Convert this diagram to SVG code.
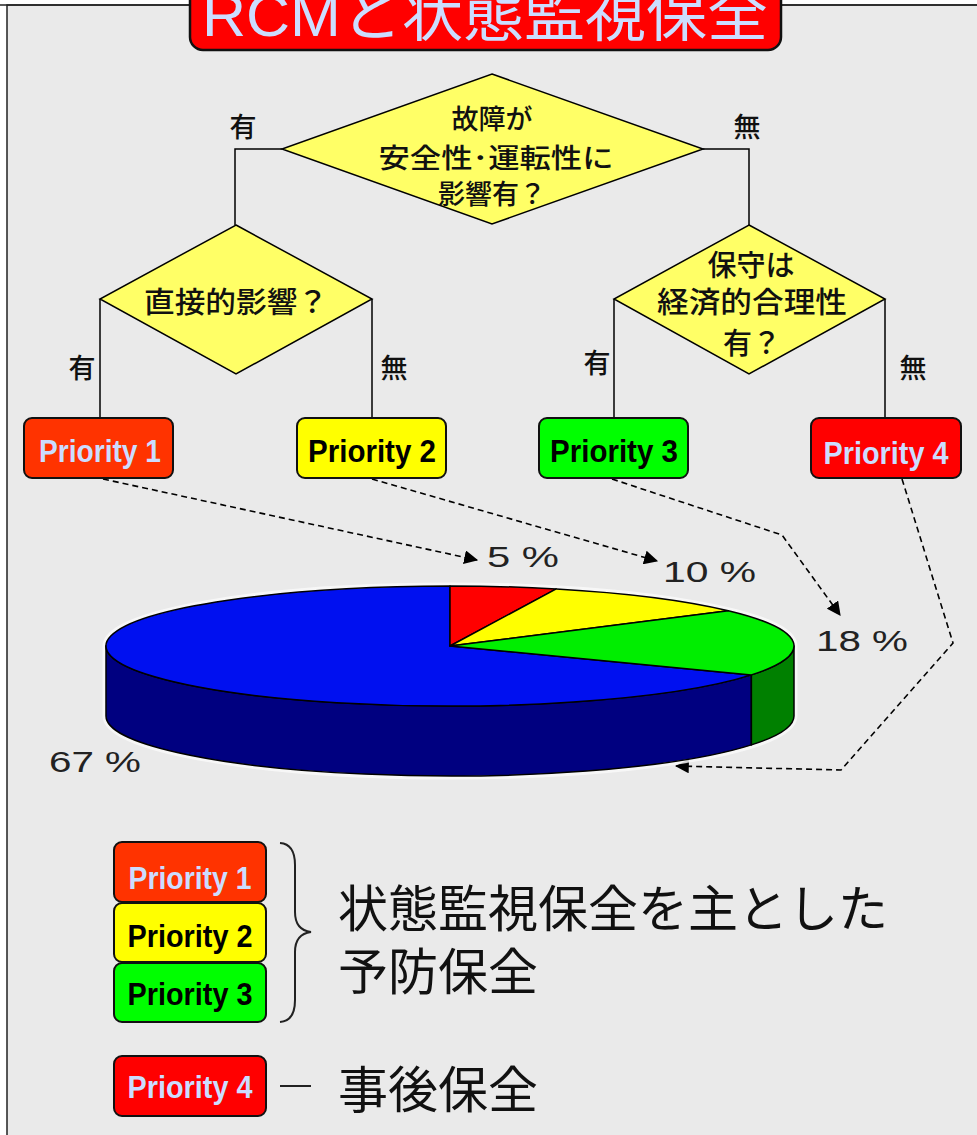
<svg xmlns="http://www.w3.org/2000/svg" width="977" height="1135" viewBox="0 0 977 1135">
<defs>
<style>
.cjk{font-family:"Noto Sans CJK JP","Liberation Sans",sans-serif;fill:#111}
.dt{font-weight:500}
.dia{fill:#FFFF66;stroke:#000;stroke-width:1.5}
.box{stroke:#111;stroke-width:2}
.pt{font-family:"Liberation Sans",Arial,sans-serif;font-weight:bold;font-size:31px;text-anchor:middle}
.lt{fill:#CCDDFF}
.dk{fill:#000}
.wire{fill:none;stroke:#000;stroke-width:1.5}
.dash{fill:none;stroke:#000;stroke-width:1.6;stroke-dasharray:6 4}
.pct{font-family:"Liberation Sans",Arial,sans-serif;font-size:29px;fill:#222}
.lbl{font-size:27px;text-anchor:middle}
.pie{stroke:#000;stroke-width:1.5;stroke-linejoin:round}
</style>
<marker id="arr" viewBox="0 0 12 12" refX="11" refY="6" markerWidth="14" markerHeight="14" markerUnits="userSpaceOnUse" orient="auto">
<path d="M0,0 L12,6 L0,12 Z" fill="#000"/>
</marker>
</defs>
<rect width="977" height="1135" fill="#fff"/>
<rect x="7" y="5" width="985" height="1145" fill="#EAEAEA" stroke="#222" stroke-width="1.5"/>
<line x1="0" y1="5" x2="977" y2="5" stroke="#222" stroke-width="1.5"/>

<g id="title">
<rect x="190" y="-14" width="591" height="64" rx="13" fill="#FF0000" stroke="#111" stroke-width="2.5"/>
<text x="485" y="36" text-anchor="middle" font-size="60" font-family="Liberation Sans,'Noto Sans CJK JP',sans-serif" fill="#CCDDFF" textLength="566" lengthAdjust="spacingAndGlyphs">RCMと状態監視保全</text>
</g>

<g id="connectors">
<polyline class="wire" points="282,149 235,149 235,225"/>
<polyline class="wire" points="703,149 749,149 749,225"/>
<line class="wire" x1="100" y1="299" x2="100" y2="418"/>
<line class="wire" x1="372" y1="299" x2="372" y2="418"/>
<line class="wire" x1="614" y1="299" x2="614" y2="418"/>
<line class="wire" x1="885" y1="299" x2="885" y2="418"/>
<line class="dash" x1="103" y1="479" x2="477" y2="560" marker-end="url(#arr)"/>
<line class="dash" x1="372" y1="479" x2="657" y2="561" marker-end="url(#arr)"/>
<polyline class="dash" points="612,479 782,535 840,615" marker-end="url(#arr)"/>
<polyline class="dash" points="902,479 953,643 841,770 676,766" marker-end="url(#arr)" stroke-dasharray="8 5"/>
</g>

<g id="decision1">
<polygon class="dia" points="492,74 703,149 492,224 282,149"/>
<text class="cjk dt" x="492" y="129" font-size="27" text-anchor="middle">故障が</text>
<text class="cjk dt" x="496" y="168" font-size="27" text-anchor="middle" textLength="235" lengthAdjust="spacingAndGlyphs">安全性･運転性に</text>
<text class="cjk dt" x="492" y="204" font-size="27" text-anchor="middle">影響有？</text>
</g>

<g id="decision2">
<polygon class="dia" points="236,225 372,299 236,374 100,299"/>
<text class="cjk dt" x="236" y="313" font-size="29" text-anchor="middle" textLength="184" lengthAdjust="spacingAndGlyphs">直接的影響？</text>
</g>

<g id="decision3">
<polygon class="dia" points="749,225 885,299 749,374 614,299"/>
<text class="cjk dt" x="751" y="276" font-size="29" text-anchor="middle">保守は</text>
<text class="cjk dt" x="752" y="313" font-size="29" text-anchor="middle" textLength="190" lengthAdjust="spacingAndGlyphs">経済的合理性</text>
<text class="cjk dt" x="752" y="354" font-size="29" text-anchor="middle">有？</text>
</g>

<g id="labels">
<text class="cjk dt lbl" x="243" y="137">有</text>
<text class="cjk dt lbl" x="747" y="137">無</text>
<text class="cjk dt lbl" x="82" y="378">有</text>
<text class="cjk dt lbl" x="394" y="378">無</text>
<text class="cjk dt lbl" x="597" y="373">有</text>
<text class="cjk dt lbl" x="913" y="378">無</text>
</g>

<g id="p1">
<rect class="box" x="24" y="418" width="149" height="60" rx="8" fill="#FF3300"/>
<text class="pt lt" x="100" y="462" textLength="122" lengthAdjust="spacingAndGlyphs">Priority 1</text>
</g>
<g id="p2">
<rect class="box" x="297" y="418" width="149" height="60" rx="8" fill="#FFFF00"/>
<text class="pt dk" x="372" y="462" textLength="128" lengthAdjust="spacingAndGlyphs">Priority 2</text>
</g>
<g id="p3">
<rect class="box" x="539" y="418" width="149" height="60" rx="8" fill="#00FF00"/>
<text class="pt dk" x="614" y="462" textLength="128" lengthAdjust="spacingAndGlyphs">Priority 3</text>
</g>
<g id="p4">
<rect class="box" x="811" y="418" width="150" height="60" rx="8" fill="#FF0000"/>
<text class="pt lt" x="886" y="464" textLength="125" lengthAdjust="spacingAndGlyphs">Priority 4</text>
</g>

<g id="pie">
<path d="M106,646 A344,60 0 0,1 794,646 L794,716 A344,60 0 0,1 106,716 Z" fill="#fff" stroke="#fafafa" stroke-width="7" stroke-linejoin="round" opacity="0.85"/>
<path class="pie" d="M106,646 A344,60 0 0,0 751.4,674.9 L751.4,744.9 A344,60 0 0,1 106,716 Z" fill="#000080"/>
<path class="pie" d="M751.4,674.9 A344,60 0 0,0 794,646 L794,716 A344,60 0 0,1 751.4,744.9 Z" fill="#008000"/>
<path class="pie" d="M450,646 L751.4,674.9 A344,60 0 1,1 450,586 Z" fill="#0010F0"/>
<path class="pie" d="M450,646 L450,586 A344,60 0 0,1 556.3,588.9 Z" fill="#FF0000"/>
<path class="pie" d="M450,646 L556.3,588.9 A344,60 0 0,1 728.3,610.7 Z" fill="#FFFF00"/>
<path class="pie" d="M450,646 L728.3,610.7 A344,60 0 0,1 751.4,674.9 Z" fill="#00EE00"/>
<text class="pct" x="487" y="567" textLength="72" lengthAdjust="spacingAndGlyphs">5 %</text>
<text class="pct" x="663" y="582" textLength="93" lengthAdjust="spacingAndGlyphs">10 %</text>
<text class="pct" x="816" y="651" textLength="92" lengthAdjust="spacingAndGlyphs">18 %</text>
<text class="pct" x="49" y="772" textLength="92" lengthAdjust="spacingAndGlyphs">67 %</text>
</g>

<g id="legend">
<rect class="box" x="114" y="842" width="152" height="60" rx="8" fill="#FF3300"/>
<text class="pt lt" x="190" y="889" textLength="123" lengthAdjust="spacingAndGlyphs">Priority 1</text>
<rect class="box" x="114" y="903" width="152" height="59" rx="8" fill="#FFFF00"/>
<text class="pt dk" x="190" y="947" textLength="125" lengthAdjust="spacingAndGlyphs">Priority 2</text>
<rect class="box" x="114" y="963" width="152" height="59" rx="8" fill="#00FF00"/>
<text class="pt dk" x="190" y="1005" textLength="125" lengthAdjust="spacingAndGlyphs">Priority 3</text>
<rect class="box" x="114" y="1056" width="152" height="60" rx="8" fill="#FF0000"/>
<text class="pt lt" x="190" y="1098" textLength="125" lengthAdjust="spacingAndGlyphs">Priority 4</text>
<path d="M280,843 Q295,844 295,865 L295,912 Q295,930 311,932 Q295,934 295,952 L295,1000 Q295,1021 280,1022" fill="none" stroke="#222" stroke-width="2"/>
<line x1="280" y1="1086" x2="311" y2="1086" stroke="#222" stroke-width="2"/>
<text class="cjk" x="338" y="927" font-size="50">状態監視保全を主とした</text>
<text class="cjk" x="338" y="990" font-size="50">予防保全</text>
<text class="cjk" x="338" y="1108" font-size="50">事後保全</text>
</g>
</svg>
